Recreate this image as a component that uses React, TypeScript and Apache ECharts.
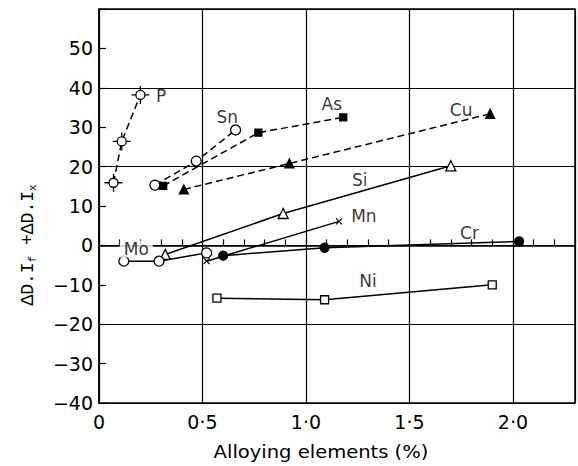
import React, { useEffect, useRef } from "react";
import * as echarts from "echarts";

// Alloying element content (%) vs. change in ideal diameter index
const pSeries = [[0.07, 15.9], [0.11, 26.4], [0.2, 38.2]];
const snSeries = [[0.27, 15.3], [0.47, 21.4], [0.66, 29.3]];
const asSeries = [[0.31, 15.1], [0.77, 28.6], [1.18, 32.5]];
const cuSeries = [[0.41, 14.2], [0.92, 20.8], [1.89, 33.4]];
const siSeries = [[0.32, -2.3], [0.89, 8.1], [1.7, 20.2]];
const mnSeries = [[0.52, -4.0], [1.16, 6.1]];
const moSeries = [[0.12, -4.0], [0.29, -4.0], [0.52, -1.9]];
const crSeries = [[0.6, -2.6], [1.09, -0.6], [2.03, 1.0]];
const niSeries = [[0.57, -13.4], [1.09, -13.8], [1.9, -10.0]];

// Element names and where they are written (data units)
const elementNames = ["P", "Sn", "As", "Cu", "Si", "Mn", "Cr", "Ni", "Mo"];
const elementLabelAt = [
  [0.3, 37.9], [0.62, 32.6], [1.125, 35.9], [1.75, 34.3], [1.26, 16.7],
  [1.28, 7.4], [1.79, 3.1], [1.3, -9.0], [0.18, -0.9],
];

const xTicks = [0, 0.5, 1.0, 1.5, 2.0];
const yTicks = [50, 40, 30, 20, 10, 0, -10, -20, -30, -40];

const FONT = "DejaVu Sans";
const DASH = [7, 4];

// circle with short crosshair strokes outside it
const CROSSED_CIRCLE =
  "path://M15,10A5,5 0 1,1 5,10A5,5 0 1,1 15,10Z M0,10L5,10 M15,10L20,10 M10,0L10,5 M10,15L10,20";
const CROSS = "path://M0,0L10,10M10,0L0,10";

function lineSeries(name: string, data: number[][], opts: any) {
  return {
    type: "line",
    name,
    data,
    showSymbol: true,
    symbol: opts.symbol,
    symbolSize: opts.size,
    itemStyle: {
      color: opts.filled ? "#000" : "#fff",
      borderColor: "#000",
      borderWidth: opts.borderWidth ?? 1.3,
    },
    lineStyle: { color: "#000", width: 1.5, type: opts.dashed ? DASH : "solid" },
    z: 3,
  };
}

export default function App() {
  const ref = useRef<HTMLDivElement>(null);

  useEffect(() => {
    if (!ref.current) return;
    const chart = echarts.init(ref.current, null, { renderer: "svg" });

    const labelData = elementNames.map((n, i) => {
      const item: any = { name: n, value: elementLabelAt[i] };
      if (n === "Mo") {
        item.label = { backgroundColor: "#fff", padding: [0, 4] };
      }
      return item;
    });

    chart.setOption({
      animation: false,
      backgroundColor: "#fff",
      grid: {
        left: 99,
        right: 3,
        top: 9,
        bottom: 63,
        show: true,
        borderColor: "#000",
        borderWidth: 1.5,
      },
      xAxis: {
        type: "value",
        min: 0,
        max: 2.3,
        interval: 0.5,
        axisLine: { show: true, lineStyle: { color: "#000", width: 1.5 } },
        axisTick: { show: true, inside: true, length: 6, lineStyle: { color: "#000", width: 1.2 } },
        minorTick: { show: true, splitNumber: 5, length: 6, lineStyle: { color: "#000", width: 1.2 } },
        splitLine: { show: true, lineStyle: { color: "#000", width: 1.2 } },
        axisLabel: {
          color: "#000",
          fontFamily: FONT,
          fontSize: 19,
          margin: 9,
          showMaxLabel: false,
          formatter: (v: number) =>
            xTicks.some((t) => Math.abs(t - v) < 1e-6)
              ? v === 0
                ? "0"
                : v.toFixed(1).replace(".", "·")
              : "",
        },
      },
      yAxis: [
        {
          type: "value",
          min: -40,
          max: 60,
          interval: 10,
          axisLine: { show: true, lineStyle: { color: "#000", width: 1.5 } },
          axisTick: { show: true, inside: true, length: 7, lineStyle: { color: "#000", width: 1.2 } },
          splitLine: { show: false },
          axisLabel: {
            color: "#000",
            fontFamily: FONT,
            fontSize: 19,
            margin: 6,
            formatter: (v: number) =>
              yTicks.includes(v) ? (v < 0 ? "−" + Math.abs(v) : String(v)) : "",
          },
        },
        {
          // every second decade gets a full grid line
          type: "value",
          min: -40,
          max: 60,
          interval: 20,
          position: "left",
          axisLine: { show: false },
          axisTick: { show: false },
          axisLabel: { show: false },
          splitLine: { show: true, lineStyle: { color: "#000", width: 1.2 } },
        },
      ],
      graphic: [
        {
          type: "text",
          x: 321,
          y: 452,
          scaleX: 1.15,
          style: {
            text: "Alloying elements (%)",
            fontFamily: FONT,
            fontSize: 17,
            fill: "#000",
            align: "center",
            verticalAlign: "middle",
          },
        },
        {
          type: "text",
          x: 28,
          y: 245,
          rotation: Math.PI / 2,
          style: {
            text: "{n|ΔD.I}{s|f}{n| +ΔD.I}{s|x}",
            fill: "#000",
            align: "center",
            verticalAlign: "middle",
            rich: {
              n: { fontFamily: "Liberation Mono", fontSize: 18, fill: "#000", lineHeight: 20 },
              s: {
                fontFamily: "Liberation Mono",
                fontSize: 11,
                fill: "#000",
                lineHeight: 20,
                verticalAlign: "bottom",
                padding: [8, 0, 0, 0],
              },
            },
          },
        },
      ],
      series: [
        lineSeries("P", pSeries, { symbol: CROSSED_CIRCLE, size: 18, dashed: true }),
        lineSeries("Sn", snSeries, { symbol: "circle", size: 10, dashed: true }),
        lineSeries("As", asSeries, { symbol: "rect", size: 7, filled: true, dashed: true }),
        lineSeries("Cu", cuSeries, { symbol: "triangle", size: 9, filled: true, dashed: true }),
        lineSeries("Si", siSeries, { symbol: "triangle", size: 10 }),
        lineSeries("Mn", mnSeries, { symbol: CROSS, size: 6, borderWidth: 1.2 }),
        lineSeries("Mo", moSeries, { symbol: "circle", size: 10 }),
        lineSeries("Cr", crSeries, { symbol: "circle", size: 9, filled: true }),
        lineSeries("Ni", niSeries, { symbol: "rect", size: 8 }),
        {
          type: "scatter",
          name: "labels",
          data: labelData,
          symbolSize: 0,
          silent: true,
          z: 4,
          itemStyle: { color: "#000" },
          label: {
            show: true,
            position: "inside",
            formatter: "{b}",
            color: "#000",
            textBorderWidth: 0,
            textBorderColor: "transparent",
            fontFamily: FONT,
            fontSize: 17,
          },
        },
      ],
    });

    return () => chart.dispose();
  }, []);

  return (
    <div
      ref={ref}
      style={{ position: "fixed", left: 0, top: 0, width: 578, height: 466 }}
    />
  );
}
